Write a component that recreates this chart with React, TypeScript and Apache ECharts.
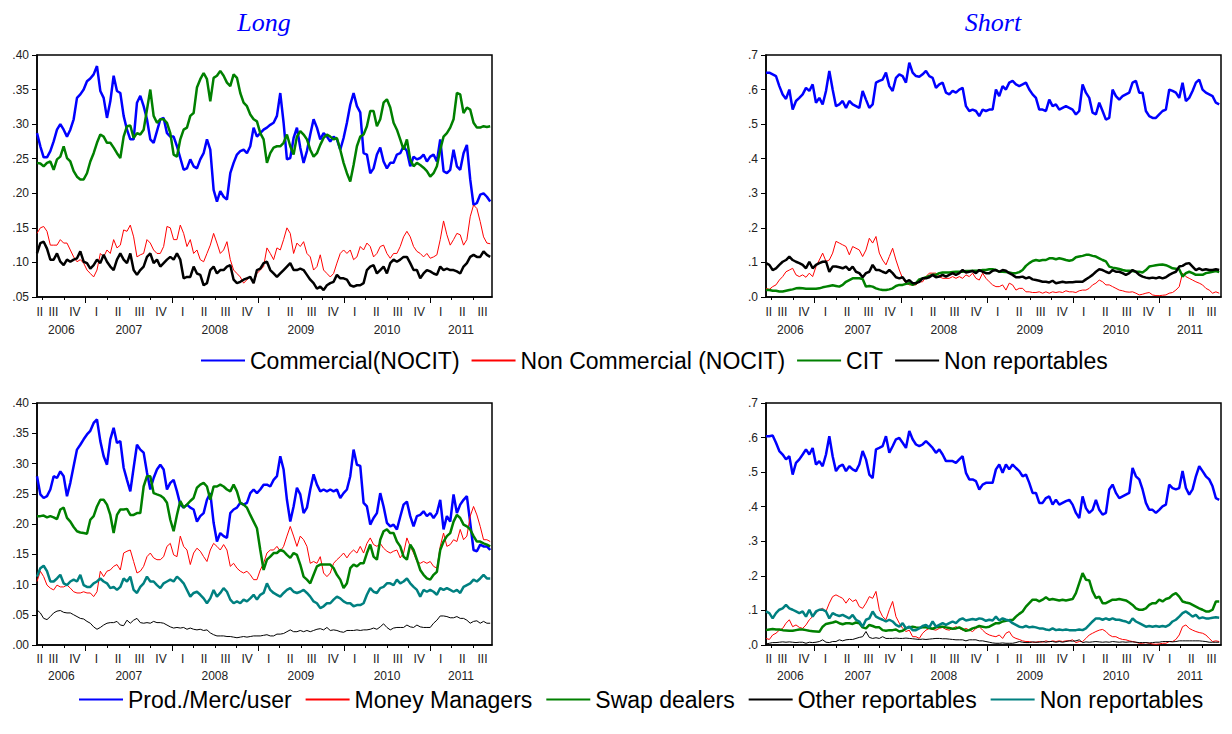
import React, { useEffect, useRef } from 'react';
import * as echarts from 'echarts';

// ---------- time grid (decimal years, roughly two-week steps) ----------
const X_MIN = 2006.434;
const X_MAX = 2011.72;
const STEP = 0.038715;
const N = 137;
const dates: number[] = Array.from({ length: N }, (_, i) => +(X_MIN + i * STEP).toFixed(4));

// ---------- axis tick / label positions ----------
const QUARTER_TICKS = [
  2006.5, 2006.75, 2007, 2007.25, 2007.5, 2007.75, 2008, 2008.25, 2008.5, 2008.75,
  2009, 2009.25, 2009.5, 2009.75, 2010, 2010.25, 2010.5, 2010.75, 2011, 2011.25, 2011.5,
];
const QUARTER_LABEL_POS = [
  2006.467, 2006.625, 2006.875,
  2007.125, 2007.375, 2007.625, 2007.875,
  2008.125, 2008.375, 2008.625, 2008.875,
  2009.125, 2009.375, 2009.625, 2009.875,
  2010.125, 2010.375, 2010.625, 2010.875,
  2011.125, 2011.375, 2011.61,
];
const QUARTER_NAMES = ['I', 'II', 'III', 'IV'];
const YEAR_TICKS = [2007, 2008, 2009, 2010, 2011];
const YEAR_LABEL_POS = [2006.717, 2007.5, 2008.5, 2009.5, 2010.5, 2011.36];

// ---------- Long (top-left) ----------
const TL_COMMERCIAL = [
  .287,.268,.252,.252,.261,.275,.292,.300,.292,.282,
  .292,.307,.338,.343,.350,.362,.366,.372,.384,.348,
  .338,.309,.333,.370,.348,.345,.312,.292,.278,.278,
  .331,.341,.326,.307,.278,.273,.290,.307,.309,.287,
  .282,.282,.268,.251,.234,.236,.249,.239,.236,.249,
  .258,.278,.263,.205,.188,.203,.195,.191,.229,.244,
  .256,.261,.263,.258,.268,.295,.282,.287,.292,.295,
  .299,.302,.312,.345,.302,.249,.251,.280,.295,.266,
  .244,.261,.285,.307,.295,.278,.287,.282,.275,.282,
  .278,.263,.280,.302,.328,.345,.326,.317,.258,.256,
  .229,.236,.256,.266,.246,.236,.244,.244,.256,.258,
  .268,.261,.239,.253,.249,.251,.256,.246,.253,.256,
  .246,.278,.232,.229,.234,.263,.239,.234,.258,.270,
  .220,.183,.186,.198,.200,.195,.188,
];
const TL_NONCOMMERCIAL = [
  .142,.150,.152,.145,.125,.125,.125,.133,.128,.128,
  .118,.108,.101,.104,.099,.089,.084,.079,.089,.113,
  .108,.118,.113,.133,.121,.125,.147,.145,.154,.137,
  .108,.111,.113,.133,.128,.118,.113,.113,.123,.152,
  .150,.133,.133,.154,.142,.123,.133,.113,.118,.104,
  .101,.113,.125,.142,.128,.113,.118,.130,.104,.089,
  .084,.079,.070,.075,.079,.070,.084,.089,.094,.121,
  .113,.104,.121,.118,.133,.150,.142,.113,.128,.123,
  .130,.113,.108,.089,.094,.111,.089,.084,.079,.084,
  .099,.113,.118,.113,.118,.104,.108,.123,.118,.128,
  .123,.108,.113,.123,.125,.113,.106,.113,.113,.123,
  .137,.145,.137,.123,.116,.113,.108,.113,.106,.108,
  .111,.133,.160,.140,.125,.133,.142,.140,.125,.133,
  .166,.183,.178,.159,.137,.128,.127,
];
const TL_CIT = [
  .244,.243,.239,.244,.246,.234,.249,.253,.268,.251,
  .246,.232,.224,.220,.220,.229,.246,.258,.273,.285,
  .282,.273,.273,.266,.258,.251,.282,.297,.298,.280,
  .287,.285,.292,.321,.350,.312,.302,.307,.307,.302,
  .287,.256,.253,.278,.292,.295,.312,.316,.353,.365,
  .374,.365,.333,.367,.370,.377,.370,.360,.355,.372,
  .367,.345,.331,.326,.314,.307,.304,.287,.278,.244,
  .258,.266,.268,.268,.273,.285,.268,.256,.282,.290,
  .285,.278,.263,.253,.258,.270,.280,.285,.282,.278,
  .280,.263,.244,.229,.217,.241,.268,.282,.285,.297,
  .319,.319,.297,.307,.331,.336,.324,.302,.292,.278,
  .263,.278,.249,.239,.244,.241,.237,.232,.224,.229,
  .239,.263,.282,.287,.295,.307,.345,.343,.316,.324,
  .321,.302,.295,.295,.297,.296,.297,
];
const TL_NONREPORT = [
  .113,.128,.130,.120,.104,.104,.113,.101,.096,.104,
  .101,.104,.106,.116,.101,.099,.091,.096,.104,.099,
  .111,.101,.094,.089,.104,.113,.104,.099,.113,.089,
  .082,.089,.094,.108,.113,.099,.104,.094,.099,.104,
  .108,.104,.113,.104,.077,.079,.079,.094,.084,.082,
  .067,.070,.089,.094,.084,.089,.089,.094,.096,.075,
  .070,.072,.075,.077,.079,.070,.089,.091,.099,.101,
  .089,.084,.079,.084,.089,.094,.099,.089,.089,.091,
  .089,.082,.075,.070,.062,.065,.060,.067,.070,.072,
  .082,.077,.077,.075,.067,.065,.067,.067,.070,.089,
  .094,.096,.084,.089,.094,.084,.099,.104,.101,.104,
  .108,.108,.099,.089,.089,.077,.084,.089,.087,.084,
  .082,.094,.089,.091,.089,.089,.087,.084,.094,.099,
  .108,.111,.108,.108,.116,.111,.108,
];

// ---------- Short (top-right) ----------
const TR_COMMERCIAL = [
  .649,.649,.644,.639,.610,.586,.573,.600,.542,.567,
  .576,.586,.605,.596,.615,.562,.576,.557,.596,.654,
  .600,.552,.557,.567,.547,.567,.557,.552,.547,.596,
  .571,.547,.557,.620,.625,.629,.649,.610,.596,.634,
  .644,.639,.620,.678,.649,.639,.637,.644,.654,.639,
  .634,.605,.615,.620,.591,.586,.596,.591,.600,.605,
  .552,.538,.542,.538,.523,.542,.538,.542,.542,.600,
  .581,.610,.600,.620,.625,.615,.610,.615,.620,.600,
  .586,.576,.542,.542,.538,.571,.552,.557,.542,.547,
  .552,.547,.542,.528,.538,.615,.591,.576,.533,.528,
  .562,.538,.513,.518,.600,.581,.571,.581,.586,.591,
  .620,.625,.591,.591,.538,.523,.518,.518,.528,.538,
  .542,.600,.596,.591,.576,.620,.567,.576,.596,.620,
  .629,.600,.591,.586,.581,.562,.557,
];
const TR_NONCOMMERCIAL = [
  .025,.022,.030,.035,.049,.059,.073,.078,.083,.064,
  .059,.064,.057,.069,.059,.088,.107,.127,.103,.107,
  .127,.161,.156,.151,.146,.122,.146,.141,.136,.117,
  .136,.170,.156,.175,.127,.107,.093,.117,.141,.107,
  .078,.054,.040,.035,.035,.035,.044,.044,.059,.069,
  .069,.069,.059,.054,.054,.054,.059,.054,.059,.054,
  .064,.059,.069,.054,.049,.069,.054,.044,.035,.030,
  .030,.035,.020,.040,.035,.020,.025,.025,.015,.015,
  .013,.013,.015,.011,.015,.011,.015,.013,.015,.013,
  .018,.015,.015,.013,.018,.020,.020,.025,.035,.040,
  .049,.044,.035,.035,.030,.025,.020,.018,.015,.014,
  .015,.011,.006,.008,.011,.013,.006,.004,.004,.005,
  .006,.011,.013,.020,.030,.069,.059,.054,.049,.044,
  .040,.035,.025,.020,.011,.015,.011,
];
const TR_CIT = [
  .020,.020,.018,.018,.016,.016,.018,.020,.022,.025,
  .026,.025,.024,.024,.024,.024,.025,.028,.030,.032,
  .034,.032,.030,.035,.044,.049,.054,.054,.054,.052,
  .030,.032,.030,.025,.022,.020,.020,.022,.025,.032,
  .035,.035,.038,.040,.035,.040,.051,.054,.057,.061,
  .064,.064,.069,.071,.071,.071,.072,.073,.073,.073,
  .075,.075,.076,.076,.076,.078,.078,.080,.080,.078,
  .073,.073,.072,.071,.069,.069,.072,.078,.090,.098,
  .104,.107,.105,.107,.107,.112,.112,.109,.112,.110,
  .107,.105,.107,.115,.117,.119,.122,.122,.119,.117,
  .112,.107,.103,.088,.085,.083,.081,.078,.076,.076,
  .075,.073,.073,.071,.078,.088,.090,.092,.093,.094,
  .092,.088,.083,.082,.080,.059,.069,.073,.069,.064,
  .064,.064,.069,.071,.073,.075,.072,
];
const TR_NONREPORT = [
  .098,.093,.078,.083,.093,.102,.107,.117,.107,.102,
  .098,.093,.083,.102,.083,.093,.098,.102,.103,.073,
  .088,.088,.086,.083,.088,.078,.088,.073,.069,.057,
  .069,.073,.093,.078,.078,.073,.069,.078,.069,.057,
  .054,.057,.044,.049,.040,.040,.044,.054,.054,.057,
  .064,.057,.059,.064,.059,.064,.069,.064,.069,.078,
  .071,.073,.075,.069,.078,.073,.069,.069,.076,.078,
  .073,.078,.076,.069,.064,.057,.057,.059,.054,.057,
  .051,.049,.047,.044,.044,.042,.047,.040,.042,.044,
  .042,.043,.043,.044,.044,.044,.051,.057,.064,.073,
  .080,.078,.073,.069,.078,.073,.073,.069,.064,.069,
  .078,.073,.064,.059,.056,.054,.056,.054,.057,.054,
  .057,.064,.069,.073,.088,.090,.096,.098,.088,.078,
  .083,.078,.080,.078,.078,.080,.078,
];

// ---------- Long (bottom-left) ----------
const BL_PRODMERC = [
  .279,.249,.243,.246,.257,.279,.276,.287,.279,.246,
  .268,.296,.323,.331,.340,.348,.354,.367,.373,.337,
  .312,.298,.340,.359,.334,.337,.293,.273,.254,.293,
  .331,.323,.318,.285,.257,.276,.290,.298,.290,.257,
  .268,.273,.254,.232,.227,.232,.227,.224,.204,.213,
  .218,.240,.251,.202,.171,.185,.180,.177,.218,.224,
  .227,.235,.232,.235,.251,.257,.251,.257,.265,.265,
  .262,.273,.279,.312,.290,.240,.204,.229,.260,.249,
  .218,.227,.257,.282,.265,.254,.257,.254,.257,.254,
  .257,.243,.251,.257,.279,.323,.298,.296,.235,.229,
  .199,.210,.218,.251,.229,.202,.196,.199,.191,.212,
  .232,.237,.213,.196,.213,.215,.221,.213,.218,.210,
  .218,.240,.191,.213,.204,.249,.218,.232,.240,.246,
  .202,.157,.155,.166,.163,.163,.157,
];
const BL_MONEYMGR = [
  .105,.122,.113,.099,.094,.091,.099,.096,.096,.099,
  .094,.088,.086,.086,.088,.086,.086,.080,.088,.122,
  .113,.122,.124,.130,.133,.124,.152,.155,.157,.138,
  .119,.122,.130,.146,.152,.144,.141,.141,.146,.163,
  .168,.149,.146,.180,.163,.157,.133,.152,.160,.155,
  .146,.138,.157,.168,.163,.157,.166,.157,.130,.135,
  .127,.122,.119,.122,.116,.108,.108,.124,.135,.152,
  .157,.157,.163,.155,.163,.180,.196,.180,.163,.180,
  .174,.163,.135,.138,.135,.146,.119,.113,.119,.135,
  .141,.146,.152,.144,.152,.157,.152,.163,.152,.168,
  .177,.166,.163,.168,.160,.155,.152,.155,.157,.144,
  .152,.177,.163,.152,.138,.135,.138,.135,.138,.130,
  .127,.163,.185,.163,.166,.174,.171,.191,.174,.180,
  .213,.229,.215,.196,.174,.174,.171,
];
const BL_SWAP = [
  .213,.213,.214,.211,.213,.211,.208,.224,.227,.210,
  .204,.195,.188,.186,.185,.184,.207,.213,.229,.240,
  .240,.232,.215,.185,.215,.224,.224,.225,.215,.215,
  .218,.218,.262,.279,.279,.251,.249,.247,.243,.235,
  .207,.188,.215,.238,.227,.232,.238,.243,.260,.265,
  .268,.262,.240,.262,.262,.265,.262,.257,.254,.265,
  .254,.235,.232,.227,.215,.204,.193,.157,.124,.141,
  .146,.152,.152,.157,.155,.149,.144,.152,.149,.133,
  .113,.108,.102,.116,.130,.133,.133,.133,.133,.127,
  .116,.108,.094,.102,.127,.133,.130,.135,.135,.152,
  .166,.146,.141,.174,.188,.191,.185,.185,.171,.163,
  .146,.141,.166,.157,.141,.124,.116,.110,.108,.116,
  .121,.157,.171,.180,.185,.204,.215,.210,.199,.196,
  .191,.180,.171,.171,.168,.166,.163,
];
const BL_OTHER = [
  .058,.053,.044,.042,.047,.053,.056,.057,.054,.053,
  .053,.050,.047,.044,.043,.039,.036,.030,.026,.029,
  .033,.036,.037,.037,.039,.033,.032,.041,.036,.041,
  .044,.037,.036,.037,.036,.039,.037,.037,.036,.033,
  .030,.028,.029,.028,.029,.026,.028,.026,.025,.026,
  .024,.025,.020,.017,.015,.015,.015,.014,.014,.013,
  .012,.013,.014,.013,.014,.015,.015,.015,.016,.017,
  .015,.015,.018,.018,.019,.022,.025,.022,.022,.024,
  .022,.024,.022,.024,.026,.027,.025,.029,.024,.025,
  .024,.022,.021,.024,.024,.024,.025,.024,.025,.025,
  .026,.028,.026,.030,.035,.029,.025,.028,.029,.029,
  .029,.033,.030,.029,.033,.030,.029,.029,.029,.036,
  .041,.048,.048,.047,.045,.045,.047,.044,.044,.041,
  .036,.039,.040,.036,.039,.036,.036,
];
const BL_NONREPORT = [
  .113,.127,.131,.122,.105,.105,.110,.116,.102,.099,
  .105,.108,.105,.116,.099,.096,.096,.102,.105,.110,
  .105,.102,.094,.096,.091,.096,.110,.105,.113,.091,
  .086,.096,.102,.113,.105,.105,.099,.094,.102,.105,
  .108,.105,.113,.108,.102,.091,.080,.086,.088,.083,
  .077,.069,.077,.091,.080,.086,.094,.088,.075,.069,
  .072,.069,.075,.072,.077,.083,.075,.083,.086,.102,
  .091,.086,.083,.080,.086,.091,.094,.088,.086,.088,
  .091,.086,.080,.072,.069,.061,.064,.069,.069,.075,
  .080,.077,.072,.069,.069,.064,.066,.066,.069,.083,
  .094,.088,.086,.094,.096,.102,.102,.099,.108,.102,
  .105,.110,.102,.096,.091,.080,.091,.088,.091,.088,
  .083,.094,.091,.094,.091,.088,.091,.086,.096,.099,
  .102,.108,.105,.110,.116,.110,.110,
];

// ---------- Short (bottom-right) ----------
const BR_PRODMERC = [
  .604,.604,.606,.585,.561,.551,.537,.546,.493,.527,
  .537,.551,.566,.551,.570,.522,.532,.517,.551,.604,
  .546,.503,.517,.522,.503,.517,.508,.503,.522,.561,
  .537,.493,.483,.566,.570,.575,.604,.556,.575,.595,
  .599,.585,.570,.619,.595,.580,.575,.580,.590,.580,
  .570,.556,.566,.551,.532,.532,.532,.527,.537,.546,
  .498,.479,.479,.474,.450,.464,.469,.469,.469,.508,
  .522,.498,.522,.508,.522,.512,.503,.488,.493,.469,
  .440,.440,.411,.411,.425,.430,.406,.420,.406,.411,
  .416,.420,.406,.382,.367,.430,.396,.382,.391,.420,
  .391,.377,.382,.450,.464,.440,.425,.430,.435,.440,
  .512,.488,.479,.450,.411,.391,.391,.382,.391,.401,
  .406,.464,.454,.450,.454,.503,.454,.435,.450,.488,
  .517,.503,.488,.479,.459,.425,.420,
];
const BR_MONEYMGR = [
  .019,.016,.029,.034,.043,.048,.063,.073,.053,.058,
  .051,.048,.058,.073,.082,.092,.102,.106,.097,.121,
  .140,.145,.140,.135,.121,.135,.126,.131,.111,.106,
  .121,.140,.135,.155,.102,.082,.073,.102,.126,.082,
  .063,.048,.039,.043,.024,.024,.019,.034,.043,.048,
  .045,.043,.048,.051,.045,.043,.048,.053,.048,.043,
  .048,.043,.039,.048,.053,.043,.034,.029,.026,.024,
  .029,.019,.034,.039,.024,.019,.016,.012,.010,.010,
  .008,.008,.010,.008,.012,.009,.012,.010,.012,.010,
  .012,.012,.015,.007,.010,.010,.019,.029,.034,.039,
  .043,.045,.039,.029,.024,.024,.019,.016,.015,.012,
  .010,.008,.005,.005,.007,.005,.003,.002,.003,.005,
  .005,.010,.010,.016,.029,.053,.058,.048,.043,.039,
  .036,.034,.029,.019,.010,.012,.010,
];
const BR_SWAP = [
  .043,.045,.046,.045,.045,.043,.042,.041,.041,.043,
  .045,.045,.043,.041,.040,.039,.038,.053,.061,.063,
  .065,.068,.063,.060,.063,.063,.061,.065,.063,.051,
  .048,.058,.055,.051,.051,.043,.041,.043,.043,.045,
  .039,.041,.048,.051,.053,.051,.050,.051,.051,.049,
  .047,.051,.053,.053,.051,.049,.047,.048,.051,.046,
  .041,.043,.048,.051,.055,.053,.051,.053,.058,.063,
  .063,.068,.070,.072,.072,.082,.090,.097,.111,.121,
  .131,.131,.126,.131,.138,.131,.133,.131,.129,.131,
  .129,.131,.133,.150,.179,.208,.189,.187,.155,.136,
  .140,.121,.121,.126,.131,.131,.133,.131,.129,.123,
  .116,.106,.102,.102,.106,.116,.121,.121,.131,.126,
  .133,.136,.145,.150,.140,.126,.123,.121,.116,.111,
  .106,.102,.097,.097,.102,.126,.126,
];
const BR_OTHER = [
  .003,.005,.007,.007,.008,.009,.008,.009,.008,.007,
  .008,.008,.005,.008,.007,.008,.010,.015,.008,.007,
  .010,.010,.015,.012,.015,.016,.016,.019,.022,.024,
  .039,.022,.019,.021,.019,.024,.019,.019,.019,.020,
  .019,.019,.020,.019,.018,.017,.016,.017,.016,.017,
  .018,.019,.019,.018,.018,.017,.016,.015,.015,.015,
  .012,.015,.015,.015,.012,.012,.010,.008,.006,.005,
  .005,.006,.005,.005,.005,.007,.010,.008,.007,.007,
  .009,.008,.008,.010,.008,.010,.010,.008,.010,.008,
  .010,.012,.011,.012,.015,.007,.009,.008,.009,.010,
  .009,.008,.009,.008,.010,.009,.008,.009,.008,.009,
  .009,.008,.007,.007,.007,.006,.007,.008,.008,.010,
  .010,.010,.009,.010,.012,.012,.012,.012,.012,.012,
  .012,.011,.010,.008,.008,.008,.008,
];
const BR_NONREPORT = [
  .097,.092,.077,.092,.102,.106,.116,.106,.102,.097,
  .092,.097,.082,.102,.082,.097,.102,.102,.097,.077,
  .092,.087,.084,.087,.082,.077,.087,.073,.068,.053,
  .073,.077,.097,.082,.077,.073,.068,.073,.068,.058,
  .053,.063,.048,.053,.043,.043,.048,.055,.058,.051,
  .068,.053,.058,.063,.058,.063,.068,.063,.073,.077,
  .071,.073,.075,.073,.077,.075,.070,.073,.071,.082,
  .071,.077,.073,.071,.063,.058,.053,.051,.055,.051,
  .053,.051,.048,.048,.045,.043,.048,.043,.045,.043,
  .045,.043,.043,.043,.045,.043,.048,.058,.068,.077,
  .077,.073,.077,.073,.077,.073,.073,.070,.068,.063,
  .077,.068,.063,.058,.053,.055,.053,.055,.053,.055,
  .053,.058,.068,.073,.082,.092,.097,.090,.082,.087,
  .077,.080,.077,.077,.079,.080,.079,
];

// ---------- names / colours ----------
const TOP_NAMES = ['Commercial(NOCIT)', 'Non Commercial (NOCIT)', 'CIT', 'Non reportables'];
const BOTTOM_NR_ID = 'Non reportables (2)';
const BOTTOM_NAMES = ['Prod./Merc/user', 'Money Managers', 'Swap dealers', 'Other reportables', BOTTOM_NR_ID];
const BLUE = '#0000ff';
const RED = '#ff0000';
const GREEN = '#008000';
const BLACK = '#000000';
const TEAL = '#008080';

const FONT = '"Liberation Sans", Arial, Helvetica, sans-serif';

export default function App() {
  const ref = useRef<HTMLDivElement>(null);

  useEffect(() => {
    if (!ref.current) return;
    const chart = echarts.init(ref.current, undefined, { renderer: 'svg' });

    const grids = [
      { left: 37, top: 55, width: 455, height: 242 },
      { left: 766, top: 55, width: 455, height: 242 },
      { left: 37, top: 403, width: 455, height: 242 },
      { left: 766, top: 403, width: 455, height: 242 },
    ].map((g) => ({ ...g, show: true, borderColor: '#000', borderWidth: 1.5, backgroundColor: 'transparent' }));

    const xAxes: any[] = [];
    grids.forEach((_, g) => {
      const bottomRow = g >= 2;
      xAxes.push({
        type: 'value', gridIndex: g, min: X_MIN, max: X_MAX, position: 'bottom',
        axisLine: { show: true, onZero: false, lineStyle: { color: '#000', width: 1.5 } },
        axisTick: { show: true, inside: false, length: 3, customValues: QUARTER_TICKS, lineStyle: { color: '#000', width: 1 } },
        axisLabel: {
          show: true, customValues: QUARTER_LABEL_POS, margin: bottomRow ? 8 : 9, fontSize: 12, color: '#222', fontFamily: FONT,
          formatter: (v: number) => QUARTER_NAMES[Math.floor((v - Math.floor(v)) * 4 + 1e-6)],
        },
        splitLine: { show: false },
      });
      xAxes.push({
        type: 'value', gridIndex: g, min: X_MIN, max: X_MAX, position: 'bottom',
        axisLine: { show: false, onZero: false },
        axisTick: { show: true, inside: false, length: 6, customValues: YEAR_TICKS, lineStyle: { color: '#000', width: 1 } },
        axisLabel: {
          show: true, customValues: YEAR_LABEL_POS, margin: bottomRow ? 25 : 27, fontSize: 12, color: '#222', fontFamily: FONT,
          formatter: (v: number) => String(Math.floor(v)),
        },
        splitLine: { show: false },
      });
    });

    const yAxis = (g: number, min: number, max: number, interval: number, digits: number) => ({
      type: 'value', gridIndex: g, min, max, interval, position: 'left',
      axisLine: { show: true, onZero: false, lineStyle: { color: '#000', width: 1.5 } },
      axisTick: { show: true, inside: false, length: 5, lineStyle: { color: '#000' } },
      axisLabel: {
        margin: 8, fontSize: 12, color: '#222', fontFamily: FONT,
        formatter: (v: number) => v.toFixed(digits).replace(/^0/, ''),
      },
      splitLine: { show: false },
    });

    const mk = (name: string, g: number, vals: number[], color: string, width: number) => ({
      type: 'line', name, xAxisIndex: 2 * g, yAxisIndex: g,
      data: dates.map((d, i) => [d, vals[i]]),
      symbol: 'none', showSymbol: false, silent: true,
      lineStyle: { color, width }, itemStyle: { color },
      emphasis: { disabled: true },
    });

    const series = [
      mk(TOP_NAMES[0], 0, TL_COMMERCIAL, BLUE, 2.5),
      mk(TOP_NAMES[1], 0, TL_NONCOMMERCIAL, RED, 1),
      mk(TOP_NAMES[2], 0, TL_CIT, GREEN, 2.5),
      mk(TOP_NAMES[3], 0, TL_NONREPORT, BLACK, 2.5),
      mk(TOP_NAMES[0], 1, TR_COMMERCIAL, BLUE, 2.5),
      mk(TOP_NAMES[1], 1, TR_NONCOMMERCIAL, RED, 1),
      mk(TOP_NAMES[2], 1, TR_CIT, GREEN, 2.5),
      mk(TOP_NAMES[3], 1, TR_NONREPORT, BLACK, 2.5),
      mk(BOTTOM_NAMES[0], 2, BL_PRODMERC, BLUE, 2.5),
      mk(BOTTOM_NAMES[1], 2, BL_MONEYMGR, RED, 1),
      mk(BOTTOM_NAMES[2], 2, BL_SWAP, GREEN, 2.5),
      mk(BOTTOM_NAMES[3], 2, BL_OTHER, BLACK, 1),
      mk(BOTTOM_NAMES[4], 2, BL_NONREPORT, TEAL, 2.5),
      mk(BOTTOM_NAMES[0], 3, BR_PRODMERC, BLUE, 2.5),
      mk(BOTTOM_NAMES[1], 3, BR_MONEYMGR, RED, 1),
      mk(BOTTOM_NAMES[2], 3, BR_SWAP, GREEN, 2.5),
      mk(BOTTOM_NAMES[3], 3, BR_OTHER, BLACK, 1),
      mk(BOTTOM_NAMES[4], 3, BR_NONREPORT, TEAL, 2.5),
    ];

    const legendBase = {
      orient: 'horizontal', itemWidth: 44, itemHeight: 14, selectedMode: false,
      itemStyle: { opacity: 0 },
      textStyle: { fontSize: 23, color: '#000', fontFamily: FONT },
    };

    chart.setOption({
      animation: false,
      backgroundColor: '#ffffff',
      textStyle: { fontFamily: FONT },
      grid: grids,
      xAxis: xAxes,
      yAxis: [
        yAxis(0, 0.05, 0.4, 0.05, 2),
        yAxis(1, 0, 0.7, 0.1, 1),
        yAxis(2, 0, 0.4, 0.05, 2),
        yAxis(3, 0, 0.7, 0.1, 1),
      ],
      legend: [
        { ...legendBase, left: 195, top: 344, itemGap: 11, data: TOP_NAMES },
        {
          ...legendBase, left: 73, top: 683, itemGap: 13, data: BOTTOM_NAMES,
          formatter: (name: string) => (name === BOTTOM_NR_ID ? 'Non reportables' : name),
        },
      ],
      graphic: [
        {
          type: 'text', x: 264, y: 22,
          style: { text: 'Long', fill: BLUE, font: 'italic 26px "Liberation Serif", "Times New Roman", serif', textAlign: 'center', textVerticalAlign: 'middle' },
        },
        {
          type: 'text', x: 993, y: 22,
          style: { text: 'Short', fill: BLUE, font: 'italic 26px "Liberation Serif", "Times New Roman", serif', textAlign: 'center', textVerticalAlign: 'middle' },
        },
      ],
      series,
    });

    return () => chart.dispose();
  }, []);

  return (
    <div
      ref={ref}
      style={{ position: 'absolute', left: 0, top: 0, width: 1232, height: 734, background: '#fff' }}
    />
  );
}
